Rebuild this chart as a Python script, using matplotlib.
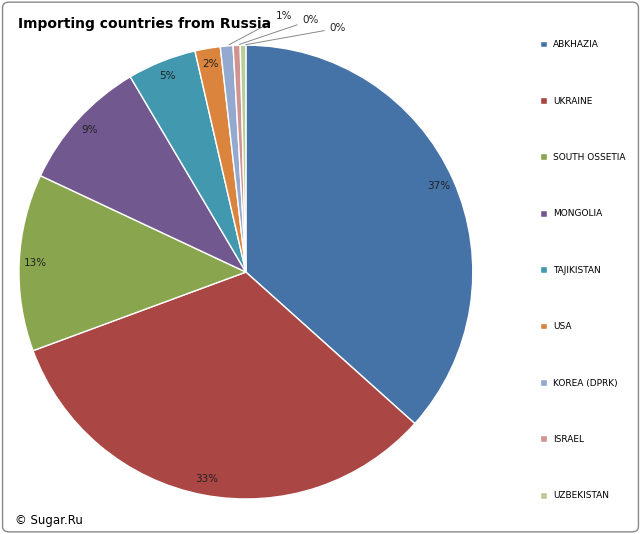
import matplotlib
matplotlib.use('agg')
import matplotlib.pyplot as plt
import numpy as np
from matplotlib.patches import FancyBboxPatch

countries = ['ABKHAZIA', 'UKRAINE', 'SOUTH OSSETIA', 'MONGOLIA', 'TAJIKISTAN',
             'USA', 'KOREA (DPRK)', 'ISRAEL', 'UZBEKISTAN']
shares = [36.6, 32.7, 12.6, 9.5, 4.9, 1.8, 0.9, 0.5, 0.4]
labels = ['37%', '33%', '13%', '9%', '5%', '2%', '1%', '0%', '0%']
colors = ['#4572A7', '#AA4643', '#89A54E', '#71588F', '#4198AF',
          '#DB843D', '#93A9CF', '#D19392', '#B9CD96']

fig = plt.figure(figsize=(6.41, 5.34), dpi=100)
fig.patches.append(FancyBboxPatch((0.004, 0.004), 0.992, 0.992,
                                  boxstyle='round,pad=0,rounding_size=0.01',
                                  transform=fig.transFigure, fc='white',
                                  ec='#888888', lw=1, zorder=-10))

ax = fig.add_axes([0.0296, 0.0655, 0.708, 0.850])
ax.patch.set_visible(False)
wedges, _ = ax.pie(shares, colors=colors, startangle=90, counterclock=False,
                   wedgeprops=dict(edgecolor='white', linewidth=1))
ax.set_xlim(-1, 1)
ax.set_ylim(-1, 1)
ax.set_aspect('equal')

# percentage labels
total = sum(shares)
cum = 0
outside = {6: (0.13, 1.13), 7: (0.25, 1.11), 8: (0.37, 1.075)}
for i, (s, lab) in enumerate(zip(shares, labels)):
    mid = 90 - (cum + s / 2) / total * 360
    cum += s
    x, y = np.cos(np.radians(mid)), np.sin(np.radians(mid))
    if i in outside:
        tx, ty = outside[i]
        ax.annotate(lab, xy=(x, y), xytext=(tx, ty), fontsize=7.5,
                    ha='left', va='center', color='#222222', annotation_clip=False,
                    arrowprops=dict(arrowstyle='-', color='#888888', lw=0.7))
    else:
        r = 0.93
        ax.text(r * x, r * y, lab, fontsize=7.5, ha='center', va='center', color='#222222')

fig.legend(wedges, countries, loc='upper left', bbox_to_anchor=(0.83, 0.94),
           frameon=False, fontsize=6.5, handlelength=0.8, handleheight=0.8,
           handletextpad=0.6, labelspacing=5.25)

fig.text(0.028, 0.955, 'Importing countries from Russia', fontsize=10,
         fontweight='bold', va='center')
fig.text(0.023, 0.026, '© Sugar.Ru', fontsize=8.5, va='center')

plt.savefig('out.png', dpi=100)
